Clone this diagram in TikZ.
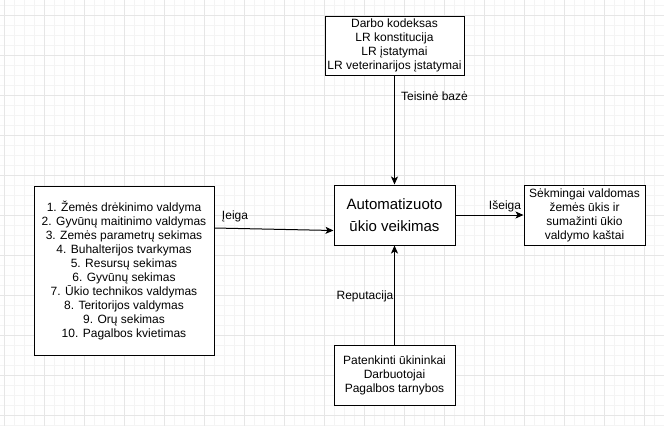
\documentclass[tikz,border=0pt]{standalone}
\usepackage{fontspec}
\setmainfont{Liberation Sans}
\usetikzlibrary{arrows.meta}
\definecolor{gridminor}{HTML}{F4F4F4}
\definecolor{gridmajor}{HTML}{E6E6E6}
\tikzset{
  box/.style={draw=black, line width=1pt, fill=white, align=center, inner sep=0pt,
    font=\fontsize{12}{14}\selectfont},
  conn/.style={line width=1pt, -{Stealth[length=8pt,width=7pt,inset=2pt]}},
  lbl/.style={font=\fontsize{12}{14}\selectfont, inner sep=0pt}
}
\begin{document}
\begin{tikzpicture}[x=1pt,y=-1pt]
\useasboundingbox (0,0) rectangle (664,426);
\fill[white] (0,0) rectangle (664,426);
% grid
\foreach \i in {0,...,66} {\draw[gridminor, line width=0.8pt] ({4+10*\i},0) -- ({4+10*\i},426);}
\foreach \j in {0,...,42} {\draw[gridminor, line width=0.8pt] (0,{5.3+10*\j}) -- (664,{5.3+10*\j});}
\foreach \i in {0,...,16} {\draw[gridmajor, line width=0.8pt] ({4+40*\i},0) -- ({4+40*\i},426);}
\foreach \j in {0,...,10} {\draw[gridmajor, line width=0.8pt] (0,{15.3+40*\j}) -- (664,{15.3+40*\j});}

\node[box, minimum width=180pt, minimum height=169pt] (L) at (124,270.5)
  {1. Žemės drėkinimo valdyma\\2. Gyvūnų maitinimo valdymas\\3. Zemės parametrų sekimas\\4. Buhalterijos tvarkymas\\5. Resursų sekimas\\6. Gyvūnų sekimas\\7. Ūkio technikos valdymas\\8. Teritorijos valdymas\\9. Orų sekimas\\10. Pagalbos kvietimas};
\node[box, minimum width=139pt, minimum height=59pt] (T) at (394.5,45.5)
  {Darbo kodeksas\\LR konstitucija\\LR įstatymai\\LR veterinarijos įstatymai};
\node[box, minimum width=121pt, minimum height=60pt, font=\fontsize{15}{22.7}\selectfont] (C) at (394.5,215)
  {Automatizuoto\\ūkio veikimas};
\node[box, minimum width=121pt, minimum height=60pt] (R) at (584.5,215)
  {Sėkmingai valdomas\\žemės ūkis ir\\sumažinti ūkio\\valdymo kaštai};
\node[box, minimum width=121pt, minimum height=60pt] (B) at (394.5,375)
  {Patenkinti ūkininkai\\Darbuotojai\\Pagalbos tarnybos};

\draw[conn] (T.south) -- (C.north);
\draw[conn] (B.north) -- (C.south);
\draw[conn] (C.east) -- (R.west);
\draw[conn] ([yshift=42.5pt]L.east) -- ([yshift=-15.5pt]C.west);

\node[lbl] (l1) at (235,216) {Įeiga};
\node[lbl] (l2) at (505,206) {Išeiga};
\node[lbl] (l3) at (434.5,96) {Teisinė bazė};
\node[lbl] (l4) at (365,296) {Reputacija};
\end{tikzpicture}
\end{document}
